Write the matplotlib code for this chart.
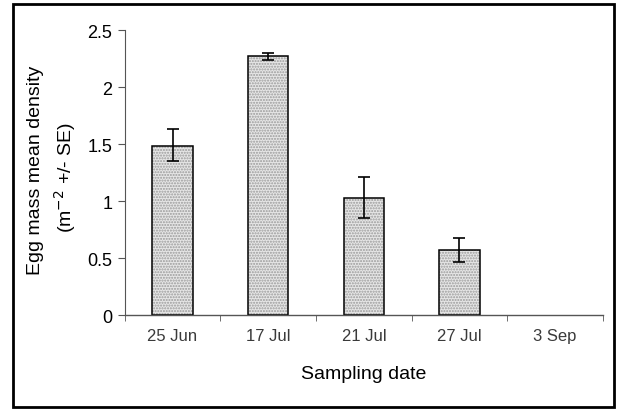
import matplotlib.pyplot as plt
import matplotlib.patches as mpatches
import numpy as np

plt.rcParams['font.family'] = ['Liberation Sans', 'DejaVu Sans']

# --- Data --------------------------------------------------------------------
dates = ["25 Jun", "17 Jul", "21 Jul", "27 Jul", "3 Sep"]
density = [1.48, 2.27, 1.03, 0.57, 0.0]
err_lo = [0.13, 0.03, 0.18, 0.10, 0.0]
err_hi = [0.15, 0.03, 0.18, 0.11, 0.0]
# -----------------------------------------------------------------------------

fig = plt.figure(figsize=(6.3, 4.1), dpi=100)
ax = fig.add_axes([0.198, 0.229, 0.759, 0.695])

x = np.arange(len(dates))
vals = np.array(density)
mask = vals > 0   # empty date has no bar drawn

# stippled fill, then black outline on top
ax.bar(x[mask], vals[mask], 0.42, color="#e6e6e6", edgecolor="#9a9a9a",
       hatch="......", lw=0)
ax.bar(x[mask], vals[mask], 0.42, fill=False, edgecolor="black", lw=1.1)
ax.errorbar(x[mask], vals[mask],
            yerr=[np.array(err_lo)[mask], np.array(err_hi)[mask]],
            fmt="none", ecolor="black", elinewidth=1.2, capsize=4, capthick=1.2)

ax.set_xlim(-0.5, len(dates) - 0.5)
ax.set_ylim(0, 2.5)
ax.set_yticks([0, 0.5, 1, 1.5, 2, 2.5])
ax.set_yticklabels(["0", "0.5", "1", "1.5", "2", "2.5"], fontsize=13)
ax.set_xticks(x)
ax.set_xticklabels(dates, fontsize=12, color="#3a3a3a")
ax.set_xticks(np.arange(len(dates) + 1) - 0.5, minor=True)
ax.tick_params(axis="x", which="major", length=0, pad=9)
ax.tick_params(axis="x", which="minor", length=4, direction="out", color="#555555")
ax.tick_params(axis="y", length=5, direction="out", color="#555555", pad=4)

for s in ["top", "right"]:
    ax.spines[s].set_visible(False)
ax.spines["left"].set_color("#555555")
ax.spines["bottom"].set_color("#555555")
ax.spines["left"].set_linewidth(0.8)
ax.spines["bottom"].set_linewidth(1.0)

ax.set_xlabel("Sampling date", fontsize=14, labelpad=16)
fig.text(0.056, 0.585, "Egg mass mean density", rotation=90, fontsize=14,
         ha="center", va="center")
fig.text(0.103, 0.568, "(m$^{-2}$ +/- SE)", rotation=90, fontsize=14,
         ha="center", va="center")

# figure frame
fig.patches.append(mpatches.Rectangle((0.021, 0.005), 0.954, 0.983,
                                      transform=fig.transFigure, fill=False,
                                      edgecolor="black", lw=2))

fig.savefig("out.png", dpi=100)
